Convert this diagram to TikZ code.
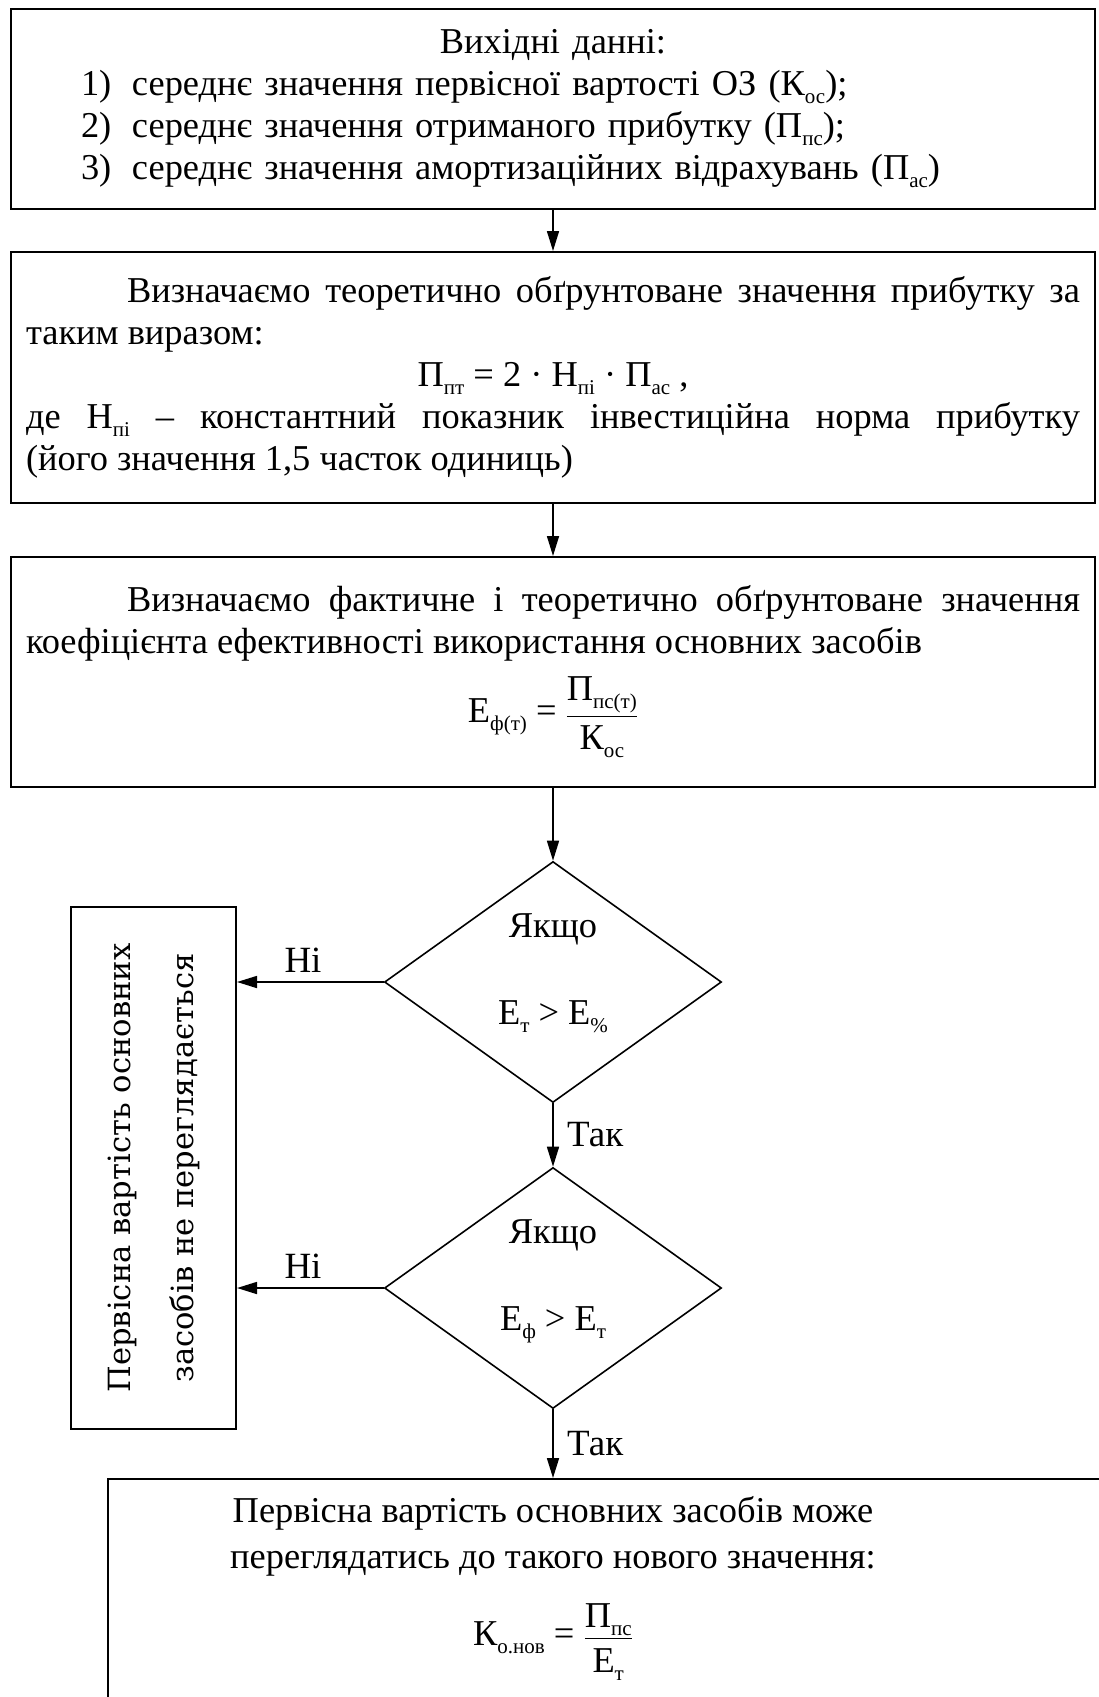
\documentclass[tikz,border=0pt]{standalone}
\usepackage{amsmath}
\usepackage{fontspec}
\setmainfont{Liberation Serif}
\newfontfamily\vertfont{DejaVu Serif}
\usetikzlibrary{arrows.meta,shapes.geometric,positioning}
% small lowered index, as in the scanned formulas
\newcommand{\low}[1]{\raisebox{-0.22em}{\fontsize{21}{21}\selectfont #1}}

\begin{document}
\begin{tikzpicture}[x=1pt,y=-1pt,>/.tip={Triangle[length=20pt,width=12pt]},
  line width=1.6pt,
  every node/.style={font=\fontsize{36.4}{42}\selectfont},
  box/.style={draw,line width=2pt,shape=rectangle,inner xsep=15pt,minimum width=1084pt},
  cond/.style={draw,line width=1.6pt,shape=diamond,aspect=1.4,inner sep=0pt,align=center,
    minimum width=337pt,minimum height=241pt},
  answer/.style={font=\fontsize{37}{42}\selectfont}]
\useasboundingbox (0,0) rectangle (1098,1697);

\node[box,minimum height=200pt,text width=1054pt,align=left] (input) at (553,109)
  {\makebox[1054pt]{Вихідні данні:}\\
   \hspace*{55pt}\makebox[51pt][l]{1)}середнє значення первісної вартості ОЗ (К\low{ос});\\
   \hspace*{55pt}\makebox[51pt][l]{2)}середнє значення отриманого прибутку (П\low{пс});\\
   \hspace*{55pt}\makebox[51pt][l]{3)}середнє значення амортизаційних відрахувань (П\low{ас})};
\node[box,minimum height=251pt,text width=1054pt,align=justify] (calc) at (553,377.5)
  {\noindent\hspace*{101pt}Визначаємо теоретично обґрунтоване значення прибутку за\linebreak
   таким виразом:\par
   {\centering П\low{пт} = 2 · Н\low{пі} · П\low{ас} ,\par}
   \noindent де Н\low{пі} – константний показник інвестиційна норма прибутку\linebreak
   (його значення 1,5 часток одиниць)};
\node[box,minimum height=230pt,text width=1054pt,align=justify] (coef) at (553,672)
  {\noindent\hspace*{101pt}Визначаємо фактичне і теоретично обґрунтоване значення\linebreak
   коефіцієнта ефективності використання основних засобів\par\vspace{14pt}
   {\centering Е\low{ф(т)} = $\dfrac{\text{П\low{пс(т)}}}{\rule{0pt}{30pt}\text{К\low{ос}}}$\par}};

\node[cond] (test1) at (553,982)
  {Якщо\\[45pt]Е\low{т} > Е\low{\%}\rule[-25pt]{0pt}{1pt}};
\node[cond] (test2) at (553,1288)
  {Якщо\\[45pt]Е\low{ф} > Е\low{т}\rule[-25pt]{0pt}{1pt}};

\node[draw,line width=2pt,rotate=90,minimum width=522pt,minimum height=165pt,align=center,
  font=\vertfont\fontsize{30.6}{63}\selectfont] (keep) at (153.5,1168)
  {Первісна вартість основних\\засобів не переглядається};

% last box runs past the page edge
\node[box,anchor=north,minimum width=1024pt,text height=40pt,text depth=250pt] (result) at (620,1478)
  {\renewcommand{\arraystretch}{1.1}\begin{tabular}[t]{@{}c@{}}Первісна вартість основних засобів може\\
   переглядатись до такого нового значення:\\[21pt]
   К\low{о.нов} = $\dfrac{\text{П\low{пс}}}{\rule{0pt}{30pt}\text{Е\low{т}}}$
   \end{tabular}\hspace*{134pt}};

\draw[->] (input) -- (calc);
\draw[->] (calc) -- (coef);
\draw[->] (coef) -- (test1);
\draw[->] (test1) -- node[answer,right=10pt] {Так} (test2);
\draw[->] (test2.south) -- node[answer,right=10pt] {Так} (test2.south |- result.north);
\draw[->] (test1.west) -- node[answer,above=5pt,pos=0.55] {Ні} (test1.west -| keep.south);
\draw[->] (test2.west) -- node[answer,above=5pt,pos=0.55] {Ні} (test2.west -| keep.south);

\end{tikzpicture}
\end{document}
